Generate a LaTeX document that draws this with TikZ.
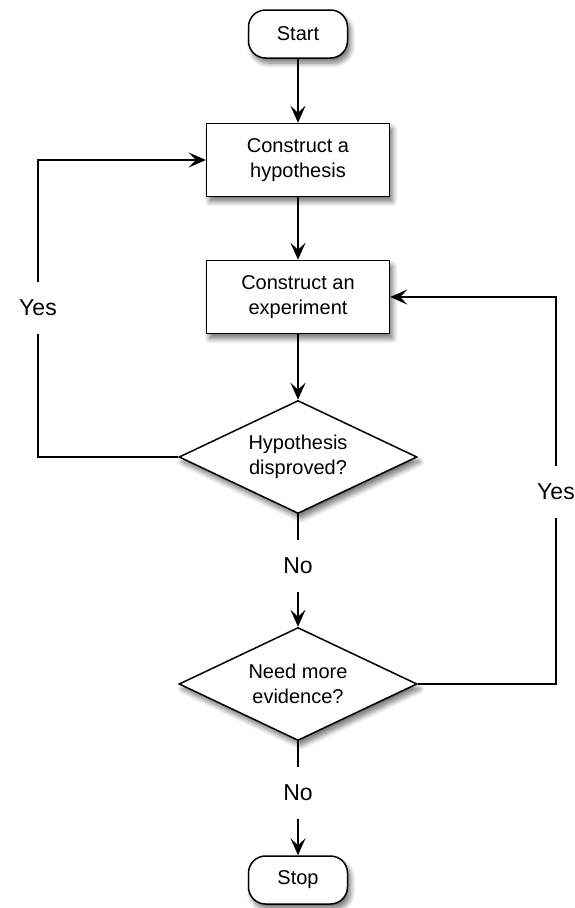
\documentclass[tikz,border=0pt]{standalone}
\usepackage{fontspec}
\setmainfont{Liberation Sans}
\usetikzlibrary{shapes.geometric,arrows.meta,shadows.blur}
\begin{document}
\begin{tikzpicture}[x=1pt,y=-1pt,
  shad/.style={blur shadow={shadow xshift=3pt,shadow yshift=-5pt,shadow blur radius=5pt,shadow blur steps=8,shadow opacity=55}},
  term/.style={draw,line width=1.5pt,fill=white,rounded corners=17pt,minimum width=99pt,minimum height=48pt,font=\fontsize{20}{23}\selectfont,shad},
  proc/.style={draw,line width=1.5pt,fill=white,minimum width=183pt,minimum height=73pt,align=center,font=\fontsize{20}{25}\selectfont,shad},
  dec/.style={draw,diamond,shape aspect=2.1,line width=1.5pt,fill=white,inner sep=0pt,minimum width=238pt,minimum height=113pt,align=center,font=\fontsize{20}{25}\selectfont,shad},
  lbl/.style={font=\fontsize{23}{26}\selectfont,minimum height=52pt,inner sep=0pt},
  arr/.style={line width=1.5pt,-{Stealth[length=17pt,width=15pt,inset=7pt]}},
  ln/.style={line width=1.5pt}]
\useasboundingbox (0,0) rectangle (575,908);
\node[term] (start) at (298,34) {Start};
\node[proc] (hyp) at (298,160) {Construct a\\hypothesis};
\node[proc] (exp) at (298,297) {Construct an\\experiment};
\node[dec] (dis) at (298,457) {Hypothesis\\disproved?};
\node[lbl] (no1) at (298,566) {No};
\node[dec] (need) at (298,684) {Need more\\evidence?};
\node[lbl] (no2) at (298,793) {No};
\node[term] (stop) at (298,880) {Stop};
\node[lbl] (yes1) at (38,308) {Yes};
\node[lbl] (yes2) at (556,492) {Yes};
\coordinate (l1) at (38,457);
\coordinate (l2) at (38,160);
\coordinate (r1) at (556,684);
\coordinate (r2) at (556,297);
\draw[arr] (start) -- (hyp);
\draw[arr] (hyp) -- (exp);
\draw[arr] (exp) -- (dis);
\draw[ln] (dis.south) -- (no1.north);
\draw[arr] (no1.south) -- (need.north);
\draw[ln] (need.south) -- (no2.north);
\draw[arr] (no2.south) -- (stop.north);
\draw[ln] (dis.west) -- (l1) -- (yes1.south);
\draw[arr] (yes1.north) -- (l2) -- (hyp.west);
\draw[ln] (need.east) -- (r1) -- (yes2.south);
\draw[arr] (yes2.north) -- (r2) -- (exp.east);
\end{tikzpicture}
\end{document}
